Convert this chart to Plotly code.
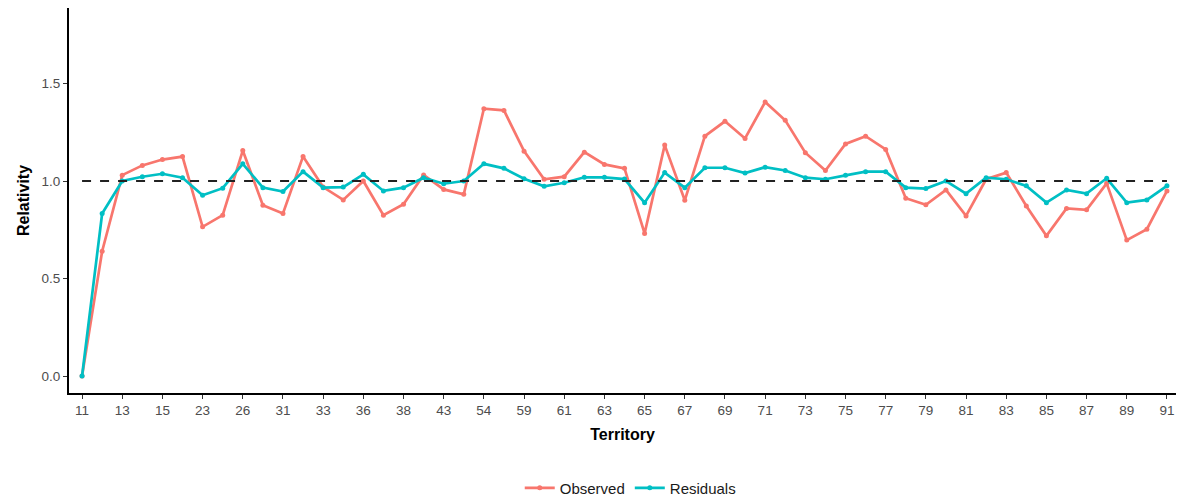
import plotly.graph_objects as go

territory = ["11", "12", "13", "14", "15", "22", "23", "24", "26", "29",
             "31", "32", "33", "35", "36", "37", "38", "42", "43", "51",
             "54", "57", "59", "60", "61", "62", "63", "64", "65", "66",
             "67", "68", "69", "70", "71", "72", "73", "74", "75", "76",
             "77", "78", "79", "80", "81", "82", "83", "84", "85", "86",
             "87", "88", "89", "90", "91"]

observed = [0.00, 0.64, 1.03, 1.08, 1.11, 1.125, 0.765, 0.825, 1.156, 0.876,
            0.833, 1.126, 0.969, 0.903, 1.00, 0.825, 0.881, 1.031, 0.957, 0.932,
            1.371, 1.362, 1.153, 1.009, 1.022, 1.148, 1.085, 1.065, 0.731, 1.184,
            0.901, 1.23, 1.306, 1.218, 1.405, 1.311, 1.145, 1.054, 1.19, 1.23,
            1.162, 0.912, 0.878, 0.954, 0.821, 1.009, 1.043, 0.872, 0.719, 0.859,
            0.852, 0.988, 0.697, 0.753, 0.949]

residuals = [0.00, 0.833, 1.00, 1.022, 1.037, 1.017, 0.927, 0.963, 1.088, 0.966,
             0.946, 1.048, 0.966, 0.969, 1.034, 0.949, 0.966, 1.017, 0.986, 1.00,
             1.088, 1.065, 1.012, 0.973, 0.991, 1.019, 1.019, 1.01, 0.889, 1.043,
             0.966, 1.068, 1.068, 1.041, 1.071, 1.054, 1.017, 1.009, 1.029, 1.048,
             1.048, 0.966, 0.961, 1.00, 0.935, 1.017, 1.009, 0.975, 0.889, 0.954,
             0.935, 1.014, 0.889, 0.903, 0.975]

tick_labels = territory[::2]
reference_level = 1.0

RED = "#F8766D"
TEAL = "#00BFC4"
FONT = "Liberation Sans, Arial, sans-serif"

fig = go.Figure()
fig.add_trace(go.Scatter(
    x=territory, y=observed, name="Observed", mode="lines+markers",
    line=dict(color=RED, width=2.7), marker=dict(color=RED, size=5)))
fig.add_trace(go.Scatter(
    x=territory, y=residuals, name="Residuals", mode="lines+markers",
    line=dict(color=TEAL, width=2.7), marker=dict(color=TEAL, size=5)))

fig.add_trace(go.Scatter(
    x=[territory[0], territory[-1]], y=[reference_level, reference_level],
    mode="lines", showlegend=False, hoverinfo="skip",
    line=dict(color="#222222", width=2, dash="dash")))

fig.update_layout(
    width=1178, height=499,
    margin=dict(l=69, r=2, t=8, b=106, autoexpand=False),
    plot_bgcolor="white", paper_bgcolor="white",
    font=dict(family=FONT, size=13, color="#4D4D4D"),
    showlegend=True,
    legend=dict(orientation="h", x=0.507, xanchor="center", y=-0.247,
                yanchor="middle", font=dict(size=15, color="#1a1a1a"),
                traceorder="normal"),
    xaxis=dict(
        type="category", categoryorder="array", categoryarray=territory,
        range=[-0.65, 54.45],
        tickmode="array", tickvals=tick_labels, ticktext=tick_labels,
        showline=True, linecolor="black", linewidth=2.2,
        ticks="outside", ticklen=4, tickcolor="#333333", tickwidth=1.2,
        showgrid=False, zeroline=False,
        tickfont=dict(size=13.5, color="#4D4D4D"),
        title=dict(text="<b>Territory</b>", font=dict(size=16, color="black"),
                   standoff=12),
    ),
    yaxis=dict(
        range=[-0.087, 1.887],
        tickmode="array", tickvals=[0, 0.5, 1.0, 1.5],
        ticktext=["0.0", "0.5", "1.0", "1.5"],
        showline=True, linecolor="black", linewidth=2.2,
        ticks="outside", ticklen=4, tickcolor="#333333", tickwidth=1.2,
        showgrid=False, zeroline=False,
        tickfont=dict(size=13.5, color="#4D4D4D"),
        title=dict(text="<b>Relativity</b>", font=dict(size=16, color="black"),
                   standoff=8),
    ),
)

fig.write_html("out.html")
